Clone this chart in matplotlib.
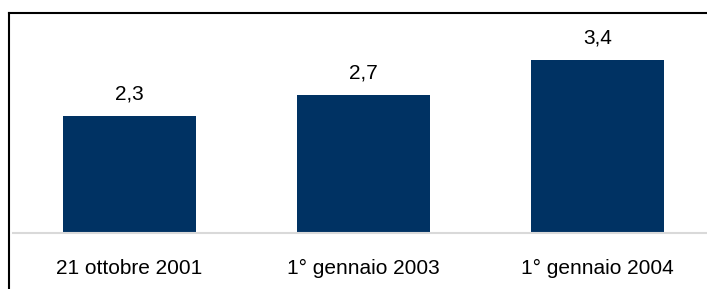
import matplotlib.pyplot as plt
from matplotlib.lines import Line2D

categories = ["21 ottobre 2001", "1° gennaio 2003", "1° gennaio 2004"]
values = [2.3, 2.7, 3.4]
value_labels = ["2,3", "2,7", "3,4"]

W, H = 707, 289
fig = plt.figure(figsize=(W / 100, H / 100), dpi=100)
plt.rcParams["font.family"] = ["Liberation Sans", "DejaVu Sans"]

# axes in pixels: left 13, right 707, bottom (y from top) 233, top 13
ax = fig.add_axes([13 / W, (H - 233) / H, (W - 13) / W, 220 / H])
pitch = 234.0
c0 = 129.5
ax.set_xlim((13 - c0) / pitch, (W - c0) / pitch)
ax.set_ylim(0, 220 / 51.0)

x = range(len(categories))
bars = ax.bar(x, values, width=133 / pitch, color="#003263", edgecolor="none")
for xi, v, lab in zip(x, values, value_labels):
    ax.annotate(lab, (xi, v), xytext=(0, 9), textcoords="offset points",
                ha="center", va="bottom", fontsize=15, color="black")

ax.set_xticks(list(x))
ax.set_xticklabels(categories, fontsize=15)
ax.tick_params(axis="x", length=0, pad=19)
ax.set_yticks([])
for s in ["top", "right", "left"]:
    ax.spines[s].set_visible(False)
ax.spines["bottom"].set_color("#d9d9d9")
ax.spines["bottom"].set_linewidth(1.5)

# outer frame (left and top edges)
fig.add_artist(Line2D([8.5 / W, 8.5 / W], [0, (H - 13) / H], color="black", lw=1.5, transform=fig.transFigure))
fig.add_artist(Line2D([8.5 / W, 1], [(H - 13) / H, (H - 13) / H], color="black", lw=1.5, transform=fig.transFigure))

fig.savefig("out.png", dpi=100)
